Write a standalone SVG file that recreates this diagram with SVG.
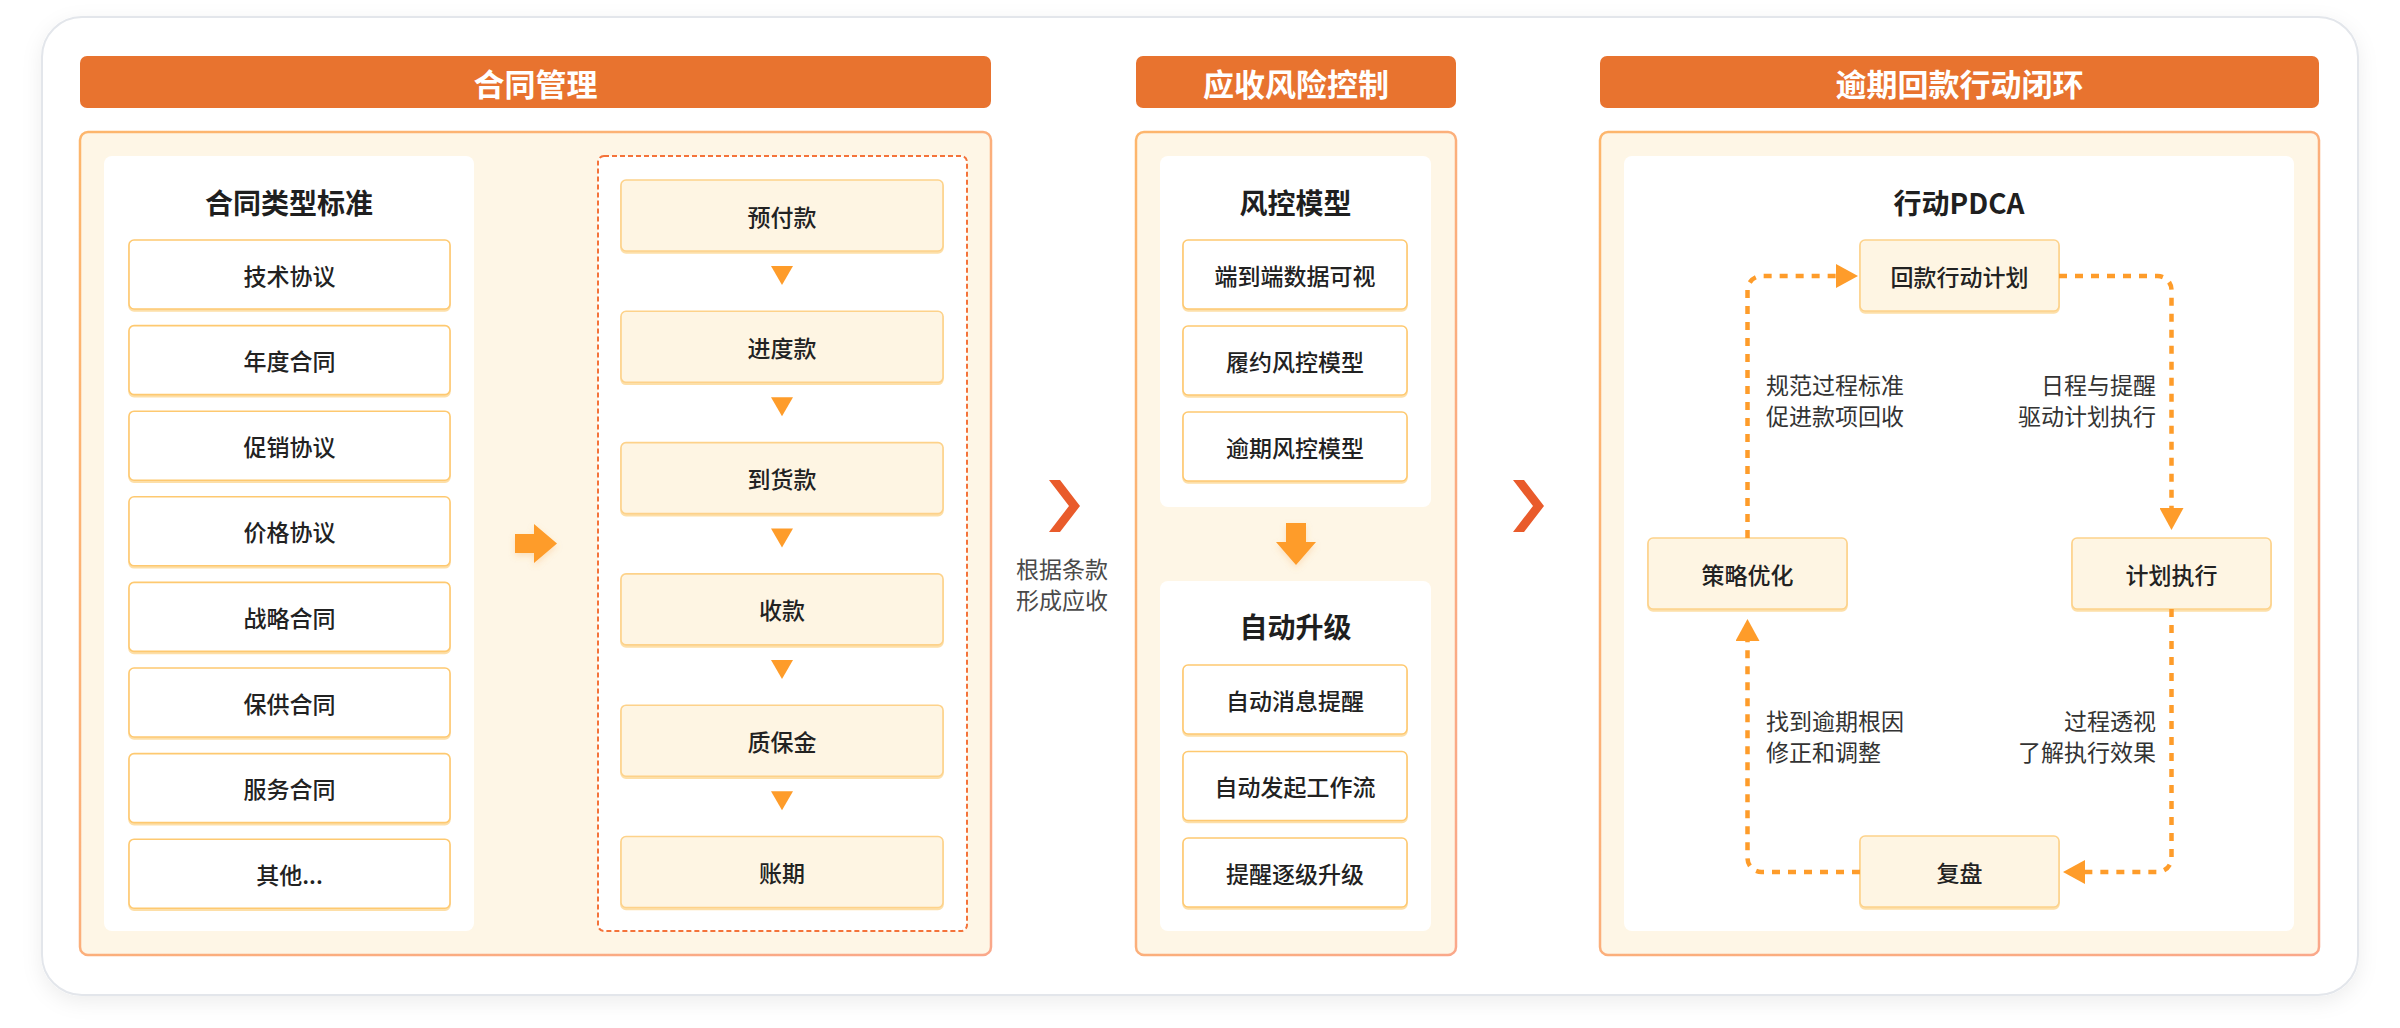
<svg xmlns="http://www.w3.org/2000/svg" width="2400" height="1028" viewBox="0 0 2400 1028">
<defs>
<style>
.hdr{fill:#E8732F}
.hdrt{font-family:"Noto Sans CJK SC","Noto Sans",sans-serif;font-size:31px;font-weight:700;fill:#FFFFFF;text-anchor:middle;dominant-baseline:central}
.panel{fill:#FEF6E6;stroke:url(#pb);stroke-width:2.5}
.wbox{fill:#FFFFFF}
.ttl{font-family:"Noto Sans CJK SC","Noto Sans",sans-serif;font-size:28px;font-weight:700;fill:#1F1F1F;text-anchor:middle;dominant-baseline:central}
.item{fill:#FFFFFF;stroke:#FEC970;stroke-width:1.6;filter:url(#nb)}
.pay{fill:#FEF5E3;stroke:#FDD28A;stroke-width:1.6;filter:url(#nb)}
.t{font-family:"Noto Sans CJK SC","Noto Sans",sans-serif;font-size:23px;font-weight:500;fill:#222222;text-anchor:middle;dominant-baseline:central}
.lbl{font-family:"Noto Sans CJK SC","Noto Sans",sans-serif;font-size:23px;fill:#333333;dominant-baseline:central}
.lblg{font-family:"Noto Sans CJK SC","Noto Sans",sans-serif;font-size:23px;fill:#4A4A4A;text-anchor:middle;dominant-baseline:central}
.tri{fill:#FE9C2A}
.chev{fill:#E95B2B}
.conn{fill:none;stroke:#FE9C2A;stroke-width:4.5;stroke-dasharray:8 8}
</style>
<linearGradient id="pb" x1="0" y1="0" x2="1" y2="1">
<stop offset="0" stop-color="#FDB66C"/>
<stop offset="1" stop-color="#FAA88A"/>
</linearGradient>
<filter id="sh" x="-5%" y="-5%" width="110%" height="115%">
<feDropShadow dx="0" dy="6" stdDeviation="10" flood-color="#000000" flood-opacity="0.07"/>
</filter>
<filter id="nb" x="-5%" y="-10%" width="110%" height="125%">
<feDropShadow dx="0" dy="2" stdDeviation="0.6" flood-color="#FDDFA8" flood-opacity="1"/>
</filter>
<filter id="as" x="-30%" y="-30%" width="160%" height="170%">
<feDropShadow dx="0" dy="3" stdDeviation="3" flood-color="#F59A3A" flood-opacity="0.25"/>
</filter>
<marker id="ah" viewBox="0 0 22 24" refX="0" refY="12" markerWidth="22" markerHeight="24" markerUnits="userSpaceOnUse" orient="auto">
<path d="M0,0 L22,12 L0,24 Z" fill="#FE9C2A"/>
</marker>
</defs>

<rect x="0" y="0" width="2400" height="1028" fill="#FFFFFF"/>
<g id="card">
<rect x="42" y="17" width="2316" height="978" rx="40" fill="#FFFFFF" stroke="#E3E6EB" stroke-width="2" filter="url(#sh)"/>
</g>

<!-- Headers -->
<g id="header-contract">
<rect class="hdr" x="80" y="56" width="911" height="52" rx="7"/>
<text class="hdrt" x="535.5" y="82">合同管理</text>
</g>
<g id="header-risk">
<rect class="hdr" x="1136" y="56" width="320" height="52" rx="7"/>
<text class="hdrt" x="1296" y="82">应收风险控制</text>
</g>
<g id="header-pdca">
<rect class="hdr" x="1600" y="56" width="719" height="52" rx="7"/>
<text class="hdrt" x="1959.5" y="82">逾期回款行动闭环</text>
</g>

<!-- Panels -->
<g id="panel-contract">
<rect class="panel" x="80" y="132" width="911" height="823" rx="8"/>
<rect class="wbox" x="104" y="156" width="370" height="775" rx="8"/>
<text class="ttl" x="289" y="202">合同类型标准</text>
<rect x="598" y="156" width="369" height="775" rx="6" fill="#FFFFFF" stroke="#F4733A" stroke-width="2" stroke-dasharray="5 3"/>
</g>

<g id="ct-1"><rect class="item" x="129" y="240" width="321" height="69" rx="5"/><text class="t" x="289.5" y="274.5">技术协议</text></g>
<g id="ct-2"><rect class="item" x="129" y="325.6" width="321" height="69" rx="5"/><text class="t" x="289.5" y="360.1">年度合同</text></g>
<g id="ct-3"><rect class="item" x="129" y="411.2" width="321" height="69" rx="5"/><text class="t" x="289.5" y="445.7">促销协议</text></g>
<g id="ct-4"><rect class="item" x="129" y="496.8" width="321" height="69" rx="5"/><text class="t" x="289.5" y="531.3">价格协议</text></g>
<g id="ct-5"><rect class="item" x="129" y="582.4" width="321" height="69" rx="5"/><text class="t" x="289.5" y="616.9">战略合同</text></g>
<g id="ct-6"><rect class="item" x="129" y="668" width="321" height="69" rx="5"/><text class="t" x="289.5" y="702.5">保供合同</text></g>
<g id="ct-7"><rect class="item" x="129" y="753.6" width="321" height="69" rx="5"/><text class="t" x="289.5" y="788.1">服务合同</text></g>
<g id="ct-8"><rect class="item" x="129" y="839.2" width="321" height="69" rx="5"/><text class="t" x="289.5" y="873.7">其他...</text></g>

<g id="pay-1"><rect class="pay" x="621" y="180" width="322" height="71" rx="5"/><text class="t" x="782" y="215.5">预付款</text></g>
<g id="pay-2"><rect class="pay" x="621" y="311.3" width="322" height="71" rx="5"/><text class="t" x="782" y="346.8">进度款</text></g>
<g id="pay-3"><rect class="pay" x="621" y="442.6" width="322" height="71" rx="5"/><text class="t" x="782" y="478.1">到货款</text></g>
<g id="pay-4"><rect class="pay" x="621" y="573.9" width="322" height="71" rx="5"/><text class="t" x="782" y="609.4">收款</text></g>
<g id="pay-5"><rect class="pay" x="621" y="705.2" width="322" height="71" rx="5"/><text class="t" x="782" y="740.7">质保金</text></g>
<g id="pay-6"><rect class="pay" x="621" y="836.5" width="322" height="71" rx="5"/><text class="t" x="782" y="872">账期</text></g>

<g id="panel-risk">
<rect class="panel" x="1136" y="132" width="320" height="823" rx="8"/>
<rect class="wbox" x="1160" y="156" width="271" height="351" rx="8"/>
<text class="ttl" x="1295.5" y="202">风控模型</text>
<rect class="wbox" x="1160" y="581" width="271" height="350" rx="8"/>
<text class="ttl" x="1295.5" y="626">自动升级</text>
</g>
<g id="rk-1"><rect class="item" x="1183" y="240" width="224" height="69" rx="5"/><text class="t" x="1295" y="274.5">端到端数据可视</text></g>
<g id="rk-2"><rect class="item" x="1183" y="326" width="224" height="69" rx="5"/><text class="t" x="1295" y="360.5">履约风控模型</text></g>
<g id="rk-3"><rect class="item" x="1183" y="412" width="224" height="69" rx="5"/><text class="t" x="1295" y="446.5">逾期风控模型</text></g>
<g id="au-1"><rect class="item" x="1183" y="665" width="224" height="69" rx="5"/><text class="t" x="1295" y="699.5">自动消息提醒</text></g>
<g id="au-2"><rect class="item" x="1183" y="751.5" width="224" height="69" rx="5"/><text class="t" x="1295" y="786">自动发起工作流</text></g>
<g id="au-3"><rect class="item" x="1183" y="838" width="224" height="69" rx="5"/><text class="t" x="1295" y="872.5">提醒逐级升级</text></g>

<g id="panel-pdca">
<rect class="panel" x="1600" y="132" width="719" height="823" rx="8"/>
<rect class="wbox" x="1624" y="156" width="670" height="775" rx="8"/>
<text class="ttl" x="1959" y="202">行动PDCA</text>
</g>
<g id="pd-plan"><rect class="pay" x="1860" y="240" width="199" height="71" rx="5"/><text class="t" x="1959.5" y="275.5">回款行动计划</text></g>
<g id="pd-opt"><rect class="pay" x="1648" y="538" width="199" height="71" rx="5"/><text class="t" x="1747.5" y="573.5">策略优化</text></g>
<g id="pd-do"><rect class="pay" x="2072" y="538" width="199" height="71" rx="5"/><text class="t" x="2171.5" y="573.5">计划执行</text></g>
<g id="pd-review"><rect class="pay" x="1860" y="836" width="199" height="71" rx="5"/><text class="t" x="1959.5" y="871.5">复盘</text></g>

<!-- Connectors -->
<g id="connectors">
<polygon class="tri" points="515,534 534,534 534,524 557,543.5 534,563 534,553 515,553" filter="url(#as)"/>
<polygon class="tri" points="771,266 793,266 782,285"/>
<polygon class="tri" points="771,397.3 793,397.3 782,416.3"/>
<polygon class="tri" points="771,528.6 793,528.6 782,547.6"/>
<polygon class="tri" points="771,659.9 793,659.9 782,678.9"/>
<polygon class="tri" points="771,791.2 793,791.2 782,810.2"/>
<polygon class="chev" points="1049,480 1060,480 1080,506 1060,532 1049,532 1069,506"/>
<polygon class="chev" points="1513,480 1524,480 1544,506 1524,532 1513,532 1533,506"/>
<polygon class="tri" points="1286,523 1306,523 1306,542 1316,542 1296,565 1276,542 1286,542" filter="url(#as)"/>
<path class="conn" d="M1747.5,538 V290 A14,14 0 0 1 1761.5,276 H1836" marker-end="url(#ah)"/>
<path class="conn" d="M2059,276 H2157.5 A14,14 0 0 1 2171.5,290 V508" marker-end="url(#ah)"/>
<path class="conn" d="M2171.5,609 V858 A14,14 0 0 1 2157.5,872 H2085" marker-end="url(#ah)"/>
<path class="conn" d="M1860,872 H1761.5 A14,14 0 0 1 1747.5,858 V641" marker-end="url(#ah)"/>
</g>

<!-- Labels -->
<g id="labels">
<text class="lblg" x="1062" y="568">根据条款</text>
<text class="lblg" x="1062" y="599">形成应收</text>
<text class="lbl" x="1766" y="384">规范过程标准</text>
<text class="lbl" x="1766" y="415">促进款项回收</text>
<text class="lbl" x="2156" y="384" text-anchor="end">日程与提醒</text>
<text class="lbl" x="2156" y="415" text-anchor="end">驱动计划执行</text>
<text class="lbl" x="1766" y="720">找到逾期根因</text>
<text class="lbl" x="1766" y="751">修正和调整</text>
<text class="lbl" x="2156" y="720" text-anchor="end">过程透视</text>
<text class="lbl" x="2156" y="751" text-anchor="end">了解执行效果</text>
</g>
</svg>
